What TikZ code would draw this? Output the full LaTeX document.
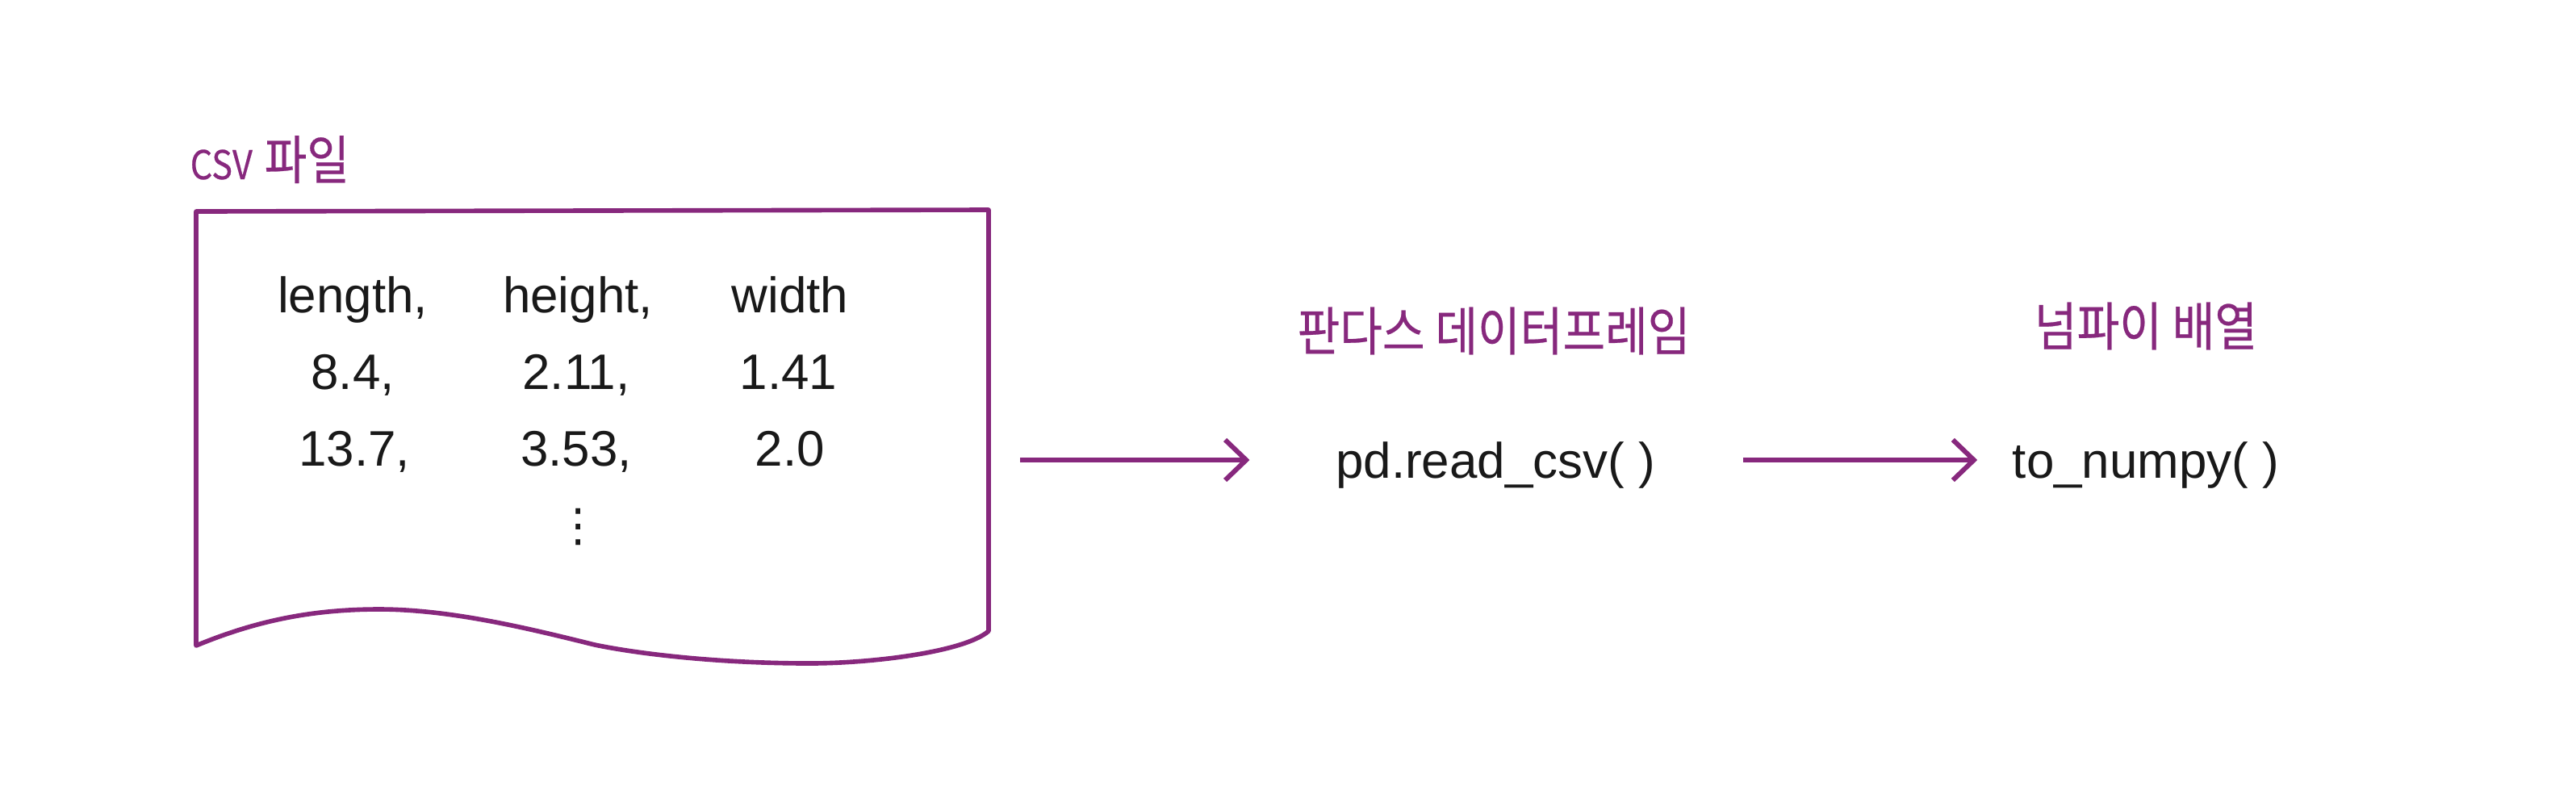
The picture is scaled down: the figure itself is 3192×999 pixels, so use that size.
\documentclass[tikz,border=0pt]{standalone}
\usepackage{fontspec}
\setmainfont{Liberation Sans}
\newfontfamily\kfont[FakeStretch=0.88,FakeBold=0.4]{Noto Sans CJK KR}
\newfontfamily\symfont{DejaVu Sans}
\usetikzlibrary{arrows.meta}
\definecolor{plum}{RGB}{135,40,125}
\definecolor{ink}{RGB}{25,25,25}
\tikzset{
  cell/.style={anchor=base, inner sep=0pt, text=ink, font=\fontsize{17.6pt}{21pt}\selectfont},
  func/.style={anchor=base, inner sep=0pt, text=ink, font=\fontsize{17.6pt}{21pt}\selectfont},
  klabel/.style={inner sep=0pt, text=plum, font=\kfont\fontsize{18.5pt}{22pt}\selectfont},
  docline/.style={draw=plum, line width=1.6pt, line join=round},
  arr/.style={draw=plum, line width=1.7pt, -{Straight Barb[length=0.26cm, width=0.5cm]}},
}
\begin{document}
\begin{tikzpicture}[x=0.01cm, y=-0.01cm]
\useasboundingbox (0,0) rectangle (3192,999);
% document shape
\draw[docline] (243,800) -- (243,262) -- (1225,260) -- (1225,782)
  .. controls (1195,808) and (1080,822) .. (1003,822)
  .. controls (900,822) and (800,812) .. (737,799)
  .. controls (660,780) and (560,755) .. (470,755)
  .. controls (390,755) and (320,768) .. (243,800) -- cycle;
\coordinate (docE) at (1225,531);
% label
\node[anchor=base west, inner sep=0pt, text=plum] (csvlabel) at (235,222)
  {\kfont\fontsize{14pt}{16pt}\selectfont CSV\hspace{0.3em}\fontsize{18.5pt}{22pt}\selectfont 파일};
% table
\node[cell] (h1) at (437,387) {length,};
\node[cell] (h2) at (716,387) {height,};
\node[cell] (h3) at (979,387) {width};
\node[cell] (a1) at (437,482) {8.4,};
\node[cell] (a2) at (714,482) {2.11,};
\node[cell] (a3) at (977,482) {1.41};
\node[cell] (b1) at (439,577) {13.7,};
\node[cell] (b2) at (714,577) {3.53,};
\node[cell] (b3) at (979,577) {2.0};
\node[inner sep=0pt, text=ink, font=\symfont\fontsize{16pt}{19pt}\selectfont] (dots) at (717,653) {⋮};
% functions
\node[func] (pd) at (1853,592) {pd.read\_csv(\ )};
\node[func] (np) at (2659,592) {to\_numpy(\ )};
\node[klabel] (pdlabel) at (1851,410) {판다스 데이터프레임};
\node[klabel] (nplabel) at (2659,404) {넘파이 배열};
% arrows
\draw[arr, shorten <=0.39cm, shorten >=1.06cm] (docE |- 0,570) -- (pd.west |- 0,570);
\draw[arr, shorten <=1.08cm, shorten >=0.43cm] (pd.east |- 0,570) -- (np.west |- 0,570);
\end{tikzpicture}
\end{document}
